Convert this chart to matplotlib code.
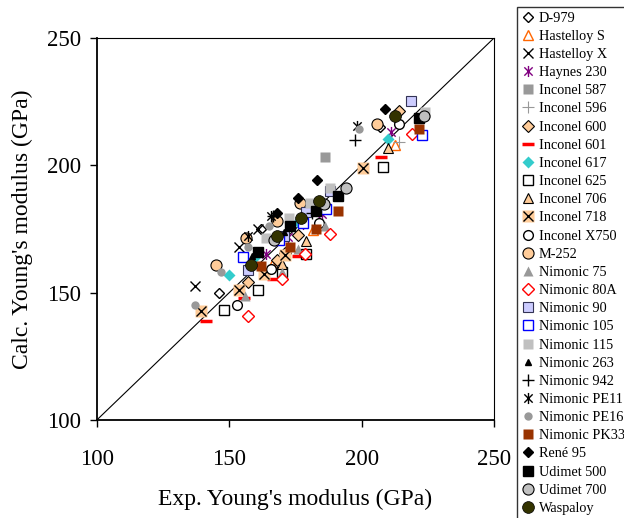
import matplotlib

matplotlib.use("Agg")

import matplotlib.pyplot as plt  # noqa: E402
from matplotlib.path import Path  # noqa: E402

plt.rcParams["font.family"] = ["Liberation Serif", "DejaVu Serif"]

# exp / calc Young's modulus (GPa), per alloy
d979_exp = [146, 162, 207]
d979_calc = [150, 175, 215]
hastS_exp = [166, 181.5, 212.5]
hastS_calc = [161, 174.7, 208]
hastX_exp = [137.2, 153.7, 160.7]
hastX_calc = [152.8, 168, 174.8]
haynes_exp = [164, 172, 178, 185, 211]
haynes_calc = [165, 172, 177, 181, 213]
in587_exp = [186]
in587_calc = [203.2]
in596_exp = [214]
in596_calc = [209]
in600_exp = [157, 168, 171, 176, 214]
in600_calc = [154, 163, 165.5, 172.5, 221.2]
in601_exp = [141.3, 155.7, 166.6, 176, 207.3]
in601_calc = [139, 148, 155.3, 164.2, 203.1]
in617_exp = [150, 160, 176, 210]
in617_calc = [157, 164.2, 177.7, 210.2]
in625_exp = [148.2, 161, 170, 179, 208]
in625_calc = [143.3, 151.1, 158, 165.3, 199.2]
in706_exp = [170, 179, 210]
in706_calc = [161.4, 170.4, 206.9]
in718_exp = [139.2, 153.8, 163, 171.2, 200.4]
in718_calc = [142.9, 151.2, 157.5, 164.8, 199]
x750_exp = [152.8, 165.8, 167.1, 184, 214]
x750_calc = [145.3, 159.3, 170.6, 177.4, 216.2]
m252_exp = [145.1, 156.3, 168, 176.8, 205.8]
m252_calc = [161, 171.3, 178.2, 185.1, 216.2]
nim75_exp = [156, 170, 175.8, 186]
nim75_calc = [148.8, 158.1, 167, 176]
nim80a_exp = [157, 169.9, 178.6, 188, 218.9]
nim80a_calc = [141, 155.4, 165.3, 173, 212.1]
nim90_exp = [157, 170.5, 179, 188, 218.7]
nim90_calc = [159, 172.1, 181.7, 189.7, 225.2]
nim105_exp = [155.1, 168.9, 177.9, 186.4, 222.7]
nim105_calc = [164, 170.8, 177.3, 182.8, 211.9]
nim115_exp = [163.9, 172.6, 180.4, 188, 223.7]
nim115_calc = [171.4, 179.2, 185.1, 191, 221]
nim263_exp = [158.5, 170.7, 182, 220.8]
nim263_calc = [164.2, 173.8, 181.6, 219.5]
nim942_exp = [166.4, 181.4, 197.4]
nim942_calc = [180.2, 181.2, 209.9]
pe11_exp = [157, 165.7, 198.3]
pe11_calc = [172.3, 179.9, 215.4]
pe16_exp = [137.2, 147, 157, 165.1, 198.9]
pe16_calc = [145.3, 158.1, 167.9, 176.2, 214.2]
pk33_exp = [162, 173, 182.9, 191, 221.7]
pk33_calc = [160.3, 167.9, 174.9, 182.2, 214.2]
rene95_exp = [168.2, 176, 183, 208.9]
rene95_calc = [181.2, 187.3, 194.3, 221.9]
u500_exp = [161, 173, 182.6, 191, 221.7]
u500_calc = [165.9, 176, 182.2, 188, 218.4]
u700_exp = [167, 185.8, 193.9, 223.6]
u700_calc = [170.5, 184.9, 191, 219.5]
wasp_exp = [158.2, 168, 177, 183.9, 212.7]
wasp_calc = [161, 172.1, 179.2, 186, 219.5]

labels = ["D-979", "Hastelloy S", "Hastelloy X", "Haynes 230", "Inconel 587",
          "Inconel 596", "Inconel 600", "Inconel 601", "Inconel 617",
          "Inconel 625", "Inconel 706", "Inconel 718", "Inconel X750", "M-252",
          "Nimonic 75", "Nimonic 80A", "Nimonic 90", "Nimonic 105",
          "Nimonic 115", "Nimonic 263", "Nimonic 942", "Nimonic PE11",
          "Nimonic PE16", "Nimonic PK33", "René 95", "Udimet 500",
          "Udimet 700", "Waspaloy"]

TAN = "#FFCC99"

# star = an x with a vertical bar through it
STAR = Path(
    [(0, -1), (0, 1), (-0.75, -0.75), (0.75, 0.75), (-0.75, 0.75), (0.75, -0.75)],
    [Path.MOVETO, Path.LINETO, Path.MOVETO, Path.LINETO, Path.MOVETO, Path.LINETO],
)

fig = plt.figure(figsize=(6.24, 5.18), dpi=100)
ax = fig.add_axes([0.155, 0.189, 0.637, 0.738])

ax.plot([100, 250], [100, 250], color="black", lw=0.8, zorder=1)


def pts(x, y, **kw):
    kw.setdefault("linestyle", "none")
    (h,) = ax.plot(x, y, **kw)
    return h


handles = []
handles.append(pts(d979_exp, d979_calc, marker="D", ms=5, mfc="white", mec="black", mew=1))
handles.append(pts(hastS_exp, hastS_calc, marker="^", ms=7, mfc="none", mec="#FF6600", mew=1))
handles.append(pts(hastX_exp, hastX_calc, marker="x", ms=7, color="black", mew=1))
handles.append(pts(haynes_exp, haynes_calc, marker=STAR, ms=8, color="#800080", mew=1))
handles.append(pts(in587_exp, in587_calc, marker="s", ms=6.5, mfc="#999999", mec="none"))
handles.append(pts(in596_exp, in596_calc, marker="+", ms=9, color="#999999", mew=0.8))
handles.append(pts(in600_exp, in600_calc, marker="D", ms=6, mfc=TAN, mec="black", mew=0.8))
handles.append(pts(in601_exp, in601_calc, marker="_", ms=9, color="red", mew=2.5))
handles.append(pts(in617_exp, in617_calc, marker="D", ms=6.5, mfc="#33CCCC", mec="none"))
handles.append(pts(in625_exp, in625_calc, marker="s", ms=7, mfc="white", mec="black", mew=1))
handles.append(pts(in706_exp, in706_calc, marker="^", ms=7.5, mfc=TAN, mec="black", mew=0.8))
sq718 = pts(in718_exp, in718_calc, marker="s", ms=9, mfc=TAN, mec="none")
x718 = pts(in718_exp, in718_calc, marker="x", ms=7, color="black", mew=1)
handles.append((sq718, x718))
handles.append(pts(x750_exp, x750_calc, marker="o", ms=7, mfc="white", mec="black", mew=1))
handles.append(pts(m252_exp, m252_calc, marker="o", ms=8, mfc=TAN, mec="black", mew=0.8))
handles.append(pts(nim75_exp, nim75_calc, marker="^", ms=7.5, mfc="#999999", mec="none"))
handles.append(pts(nim80a_exp, nim80a_calc, marker="D", ms=6, mfc="white", mec="red", mew=1))
handles.append(pts(nim90_exp, nim90_calc, marker="s", ms=7.5, mfc="#CCCCFF", mec="#333355", mew=0.8))
handles.append(pts(nim105_exp, nim105_calc, marker="s", ms=7.5, mfc="white", mec="blue", mew=1))
handles.append(pts(nim115_exp, nim115_calc, marker="s", ms=7, mfc="#C0C0C0", mec="none"))
handles.append(pts(nim263_exp, nim263_calc, marker="^", ms=5, color="black"))
handles.append(pts(nim942_exp, nim942_calc, marker="+", ms=8, color="black", mew=1))
handles.append(pts(pe11_exp, pe11_calc, marker=STAR, ms=8, color="black", mew=1))
handles.append(pts(pe16_exp, pe16_calc, marker="o", ms=6, mfc="#999999", mec="none"))
handles.append(pts(pk33_exp, pk33_calc, marker="s", ms=6.5, mfc="#993300", mec="none"))
handles.append(pts(rene95_exp, rene95_calc, marker="D", ms=5, color="black"))
handles.append(pts(u500_exp, u500_calc, marker="s", ms=6.5, color="black"))
handles.append(pts(u700_exp, u700_calc, marker="o", ms=8, mfc="#C0C0C0", mec="black", mew=0.8))
handles.append(pts(wasp_exp, wasp_calc, marker="o", ms=8.5, mfc="#333300", mec="black", mew=0.5))

ax.set_xlim(100, 250)
ax.set_ylim(100, 250)
ax.set_xticks([100, 150, 200, 250])
ax.set_yticks([100, 150, 200, 250])
ax.tick_params(direction="out", length=5, width=1, labelsize=16.5)
ax.tick_params(axis="x", pad=15.5)
ax.tick_params(axis="y", pad=6)
for side in ["left", "bottom"]:
    ax.spines[side].set_linewidth(1.3)
for side in ["top", "right"]:
    ax.spines[side].set_linewidth(0.8)
ax.set_xlabel("Exp. Young's modulus (GPa)", fontsize=17, labelpad=14)
ax.set_ylabel("Calc. Young's modulus (GPa)", fontsize=17, labelpad=10)

leg = fig.legend(handles, labels, loc="upper left", bbox_to_anchor=(0.829, 0.986),
                 fontsize=10.3, frameon=True, fancybox=False, edgecolor="black",
                 handlelength=0.9, handletextpad=0.3, borderpad=0.3,
                 labelspacing=0.36, borderaxespad=0)
leg.get_frame().set_linewidth(1)

fig.savefig("out.png", dpi=100)
